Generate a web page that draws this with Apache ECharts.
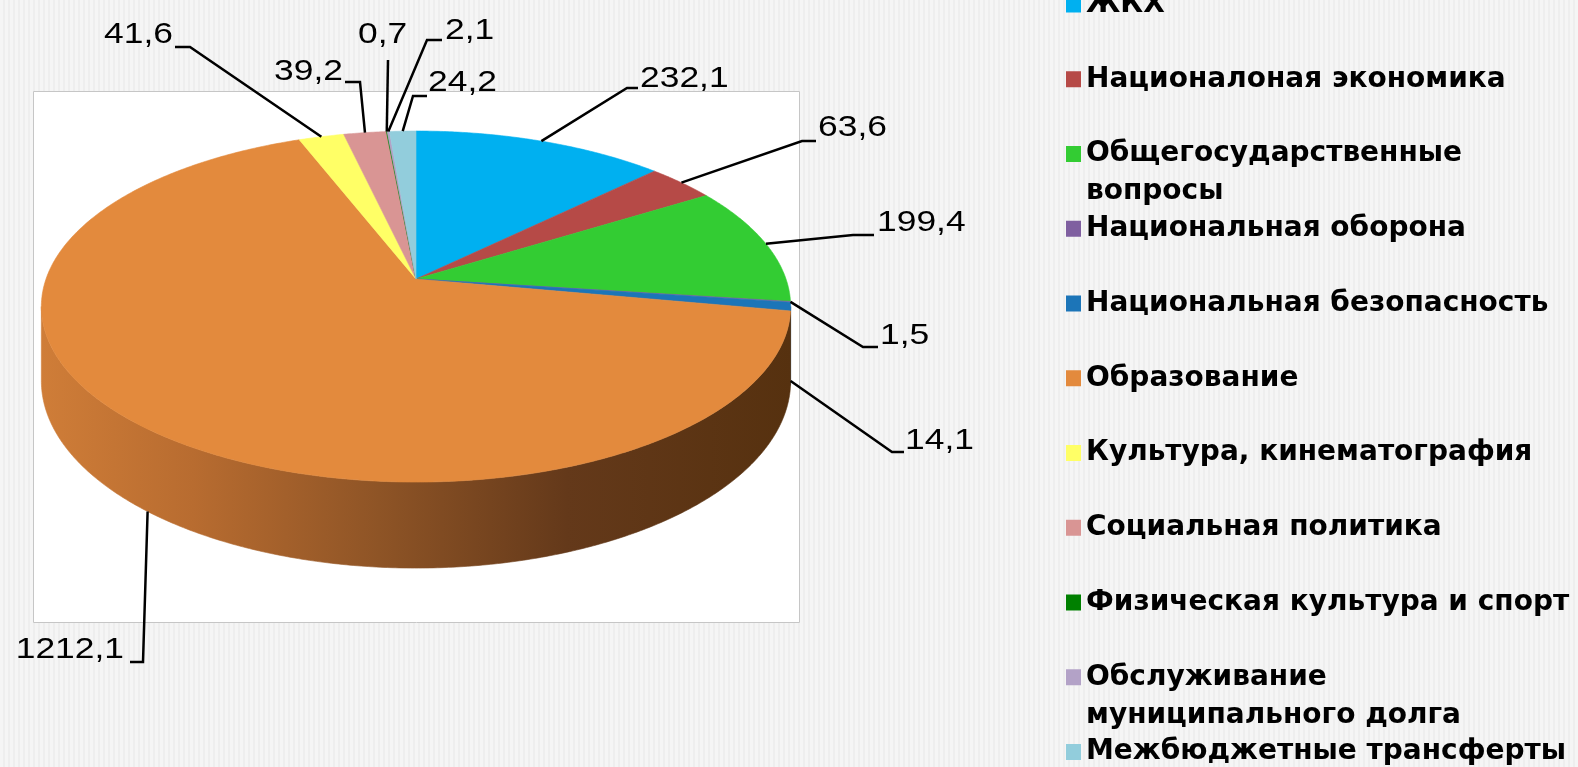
<!DOCTYPE html>
<html><head><meta charset="utf-8">
<script src="https://cdn.jsdelivr.net/npm/echarts@6/dist/echarts.min.js"></script>
<style>
html,body{margin:0;padding:0;}
body{width:1578px;height:767px;overflow:hidden;background:#f2f2f2 repeating-linear-gradient(90deg,#f5f5f5 0px,#f5f5f5 3px,#eeeeee 3px,#eeeeee 5px);}
#chart{width:1578px;height:767px;}
</style></head><body><div id="chart"></div>
<script>
// ---- data ----
const categories = [
  'ЖКХ',
  'Националоная экономика',
  'Общегосударственные\nвопросы',
  'Национальная оборона',
  'Национальная безопасность',
  'Образование',
  'Культура, кинематография',
  'Социальная политика',
  'Физическая культура и спорт',
  'Обслуживание\nмуниципального долга',
  'Межбюджетные трансферты'
];
const values = [232.1, 63.6, 199.4, 1.5, 14.1, 1212.1, 41.6, 39.2, 0.7, 2.1, 24.2];
const colors = ['#00B0F0','#B64A47','#33CC33','#7F5FA0','#1C75B8','#E38A3D','#FFFF66','#D99594','#008000','#B3A2C7','#92CDDC'];

// ---- layout (pixels) ----
const CX = 416, CY = 279, RX = 370, RY = 171.2, K = 0.157, H = 72.5;
const labelLayout = [
  {anchor:'top',    elbow:[627,88],  stub:638, text:[640,79],  align:'left'},
  {anchor:'top',    elbow:[802,141], stub:816, text:[818,128], align:'left'},
  {anchor:'top',    elbow:[853,235], stub:874, text:[877,223], align:'left'},
  {anchor:'top',    elbow:[863,347], stub:878, text:[880,336], align:'left'},
  {anchor:'bottom', elbow:[892,452], stub:904, text:[905,441], align:'left'},
  {anchor:'bottom', elbow:[143,662], stub:130, text:[124,650], align:'right'},
  {anchor:'top',    elbow:[190,47],  stub:175, text:[173,35],  align:'right'},
  {anchor:'top',    elbow:[360,82],  stub:345, text:[343,72],  align:'right'},
  {anchor:'top',    elbow:[388,60],  stub:388, text:[358,35],  align:'left'},
  {anchor:'top',    elbow:[427,40],  stub:442, text:[445,31],  align:'left'},
  {anchor:'top',    elbow:[413,96],  stub:427, text:[428,83],  align:'left'}
];

const total = values.reduce((a,b)=>a+b,0);
const starts = [];
values.reduce((acc,v,i)=>{ starts[i]=acc; return acc+v; },0);

function proj(aDeg, drop){
  const a = aDeg*Math.PI/180;
  const v = -Math.cos(a);
  const f = 1/(1-K*v);
  return [CX + RX*Math.sin(a)*f, CY + (RY*v + drop)*f];
}
function arc(a1, a2, drop){
  const n = Math.max(2, Math.ceil((a2-a1)/0.5)+1);
  const pts = [];
  for (let j=0;j<n;j++) pts.push(proj(a1+(a2-a1)*j/(n-1), drop));
  return pts;
}
function darken(hex, k){
  const n = parseInt(hex.slice(1),16);
  const r = Math.round(((n>>16)&255)*k), g = Math.round(((n>>8)&255)*k), b = Math.round((n&255)*k);
  return 'rgb('+r+','+g+','+b+')';
}
const wallGradient = new echarts.graphic.LinearGradient(42,0,792,0,[
  {offset:0,color:'#cf7d38'},{offset:0.2,color:'#b86c30'},{offset:0.45,color:'#8e5426'},
  {offset:0.7,color:'#64391a'},{offset:1,color:'#56310f'}
], true);
const wallMin = 90 + Math.asin(K)*180/Math.PI, wallMax = 270 - Math.asin(K)*180/Math.PI;

function makeRender(i){
  return function(params, api){
    const val = api.value(0);
    const a1 = 360*starts[i]/total, a2 = 360*(starts[i]+val)/total;
    const children = [];
    const w1 = Math.max(a1, wallMin), w2 = Math.min(a2, wallMax);
    if (w2 > w1){
      const top = arc(w1,w2,0), bot = arc(w1,w2,H).reverse();
      const fill = (i===5) ? wallGradient : darken(colors[i],0.55);
      children.push({type:'polygon', shape:{points: top.concat(bot)}, style:{fill:fill, stroke:fill, lineWidth:0.6}, z2:1});
    }
    const face = [[CX,CY]].concat(arc(a1,a2,0));
    children.push({type:'polygon', shape:{points:face}, style:{fill:colors[i], stroke:colors[i], lineWidth:0.6}, z2:5});
    const L = labelLayout[i];
    const mid = (a1+a2)/2;
    const anc = proj(mid, L.anchor==='bottom' ? H : 0);
    children.push({type:'polyline', shape:{points:[anc, L.elbow, [L.stub, L.elbow[1]]]}, style:{stroke:'#000', lineWidth:2.5, fill:null}, z2:10});
    children.push({type:'text', x:L.text[0], y:L.text[1], scaleX:1.18,
      style:{text:String(val).replace('.',','), fill:'#000', fontSize:30, fontFamily:'Liberation Sans', align:L.align, verticalAlign:'middle'}, z2:10});
    return {type:'group', children};
  };
}

const slotTop = 3.5, slotStep = 74.75;
const chart = echarts.init(document.getElementById('chart'), null, {renderer:'canvas'});
chart.setOption({
  backgroundColor:'transparent',
  animation:false,
  graphic:[{type:'rect', z:0, shape:{x:33.5,y:91.5,width:766,height:531}, style:{fill:'#ffffff', stroke:'#c6c6c6', lineWidth:1}}],
  legend: categories.map((name,i)=>{
    const two = name.indexOf('\n')>=0;
    return {data:[name], left:1066, top: slotTop + slotStep*i + 1 - (two?57:19), orient:'vertical', icon:'rect',
      itemWidth:15, itemHeight:16, padding:0, selectedMode:false,
      formatter: (n)=> two ? '\u00a0\n' + n : n,
      textStyle:{fontFamily:'DejaVu Sans', fontWeight:'bold', fontSize:28, color:'#000', lineHeight:38}};
  }),
  series: categories.map((name,i)=>({
    type:'custom', name:name, coordinateSystem:'none', silent:true,
    itemStyle:{color:colors[i]},
    data:[[values[i]]],
    renderItem: makeRender(i)
  }))
});
</script></body></html>
